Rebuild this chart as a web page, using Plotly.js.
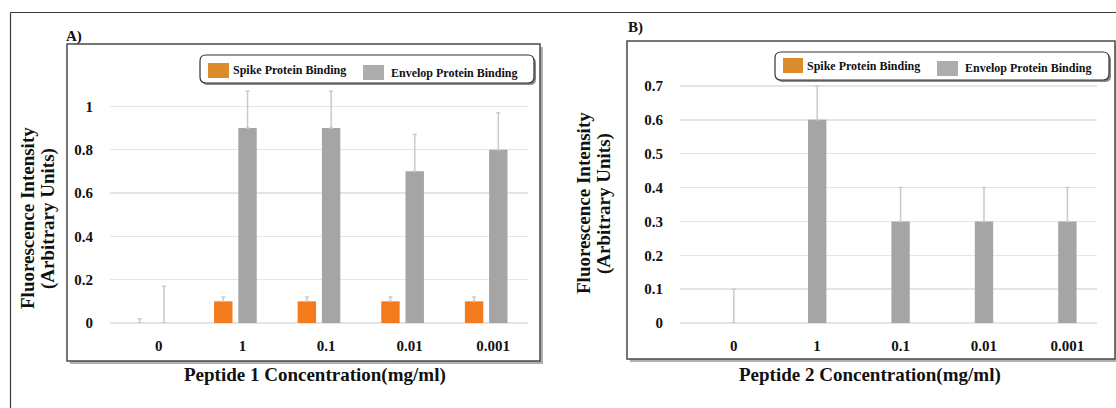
<!DOCTYPE html>
<html>
<head>
<meta charset="utf-8">
<script src="https://cdn.plot.ly/plotly-3.0.1.min.js"></script>
<style>html,body{margin:0;padding:0;background:#fff;}#chart{width:1116px;height:408px;}</style>
</head>
<body>
<div id="chart"></div>
<script>
// ---- data ----
const categories = ['0', '1', '0.1', '0.01', '0.001'];
const seriesNames = ['Spike Protein Binding', 'Envelop Protein Binding'];
const p1Spike = [0, 0.1, 0.1, 0.1, 0.1];
const p1SpikeErr = [0.02, 0.02, 0.02, 0.02, 0.02];
const p1Envelop = [0, 0.9, 0.9, 0.7, 0.8];
const p1EnvelopErr = [0.17, 0.17, 0.17, 0.17, 0.17];
const p2Spike = [0, 0, 0, 0, 0];
const p2Envelop = [0, 0.6, 0.3, 0.3, 0.3];
const p2EnvelopErr = [0.1, 0.1, 0.1, 0.1, 0.1];
const y1TickVals = [0, 0.2, 0.4, 0.6, 0.8, 1, 1.2];
const y1TickText = ['0', '0.2', '0.4', '0.6', '0.8', '1', ''];
const y2TickVals = [0, 0.1, 0.2, 0.3, 0.4, 0.5, 0.6, 0.7, 0.8];
const y2TickText = ['0', '0.1', '0.2', '0.3', '0.4', '0.5', '0.6', '0.7', ''];

// ---- styles ----
const W = 1116, H = 408;
const px = x => x / W;
const py = y => 1 - y / H;
const ORANGE = '#F47A1E';
const GRAY = '#A5A5A5';
const LEG_ORANGE = '#DB8C2C';
const LEG_GRAY = '#ADADAD';
const ERR = '#CACACA';
const FONT = 'Liberation Serif';
const plusOnly = arr => arr.map(() => 0);
const bold = arr => arr.map(t => t === '' ? '' : '<b>' + t + '</b>');

function errBar(arr) {
  return {type: 'data', symmetric: false, array: arr, arrayminus: plusOnly(arr),
          color: ERR, thickness: 1.5, width: 2};
}

const traces = [
  {type: 'bar', name: seriesNames[0], x: categories, y: p1Spike, xaxis: 'x', yaxis: 'y',
   marker: {color: ORANGE}, error_y: errBar(p1SpikeErr), hoverinfo: 'skip'},
  {type: 'bar', name: seriesNames[1], x: categories, y: p1Envelop, xaxis: 'x', yaxis: 'y',
   marker: {color: GRAY}, error_y: errBar(p1EnvelopErr), hoverinfo: 'skip'},
  {type: 'bar', name: seriesNames[0], x: categories, y: p2Spike, xaxis: 'x2', yaxis: 'y2',
   marker: {color: ORANGE}, hoverinfo: 'skip'},
  {type: 'bar', name: seriesNames[1], x: categories, y: p2Envelop, xaxis: 'x2', yaxis: 'y2',
   marker: {color: GRAY}, error_y: errBar(p2EnvelopErr), hoverinfo: 'skip'}
];

const tickFont = {family: FONT, size: 15, color: '#111111', weight: 'bold'};
function xAxis(d0, d1, anchor, shift) {
  return {domain: [px(d0), px(d1)], anchor: anchor, type: 'category', showgrid: false,
          showline: false, zeroline: false, ticks: '', tickfont: tickFont,
          tickmode: 'array', tickvals: categories, ticktext: bold(categories),
          ticklabelstandoff: 12, ticklabelshift: shift, fixedrange: true};
}
function yAxis(top, anchor, range, vals, text) {
  return {domain: [py(323), py(top)], anchor: anchor, range: range, tickmode: 'array',
          tickvals: vals, ticktext: bold(text), showgrid: true, gridcolor: '#E5E5E5', gridwidth: 1.5,
          zeroline: true, zerolinecolor: '#E5E5E5', zerolinewidth: 1.5, showline: false,
          ticks: '', tickfont: tickFont, ticklabelstandoff: 16, fixedrange: true};
}

function rrPath(x0, y0, x1, y1, r) {
  const P = (x, y) => px(x) + ',' + py(y);
  return 'M' + P(x0 + r, y0) + ' L' + P(x1 - r, y0) + ' Q' + P(x1, y0) + ' ' + P(x1, y0 + r) +
         ' L' + P(x1, y1 - r) + ' Q' + P(x1, y1) + ' ' + P(x1 - r, y1) +
         ' L' + P(x0 + r, y1) + ' Q' + P(x0, y1) + ' ' + P(x0, y1 - r) +
         ' L' + P(x0, y0 + r) + ' Q' + P(x0, y0) + ' ' + P(x0 + r, y0) + ' Z';
}
function rect(x0, y0, x1, y1, line, fill, layer) {
  return {type: 'rect', xref: 'paper', yref: 'paper', x0: px(x0), x1: px(x1), y0: py(y1), y1: py(y0),
          line: line, fillcolor: fill, layer: layer || 'below'};
}
function lineShape(x0, y0, x1, y1, color, w) {
  return {type: 'line', xref: 'paper', yref: 'paper', x0: px(x0), x1: px(x1), y0: py(y0), y1: py(y1),
          line: {color: color, width: w}, layer: 'below'};
}

const shapes = [
  // outer frame
  lineShape(10.5, 12.5, 1116, 12.5, '#3a3a3a', 1.2),
  lineShape(10.5, 12.5, 10.5, 408, '#3a3a3a', 1.2),
  // panel A frame with shadow
  rect(70, 47, 543, 364, {width: 0}, '#B0B0B0'),
  rect(67, 44, 540, 361, {color: '#4a4a4a', width: 1.5}, '#FFFFFF'),
  // panel B frame with shadow
  rect(630, 44, 1118, 362, {width: 0}, '#B0B0B0'),
  rect(627, 41, 1115, 359, {color: '#4a4a4a', width: 1.5}, '#FFFFFF'),
  // legend A box
  {type: 'path', xref: 'paper', yref: 'paper', path: rrPath(202, 57, 536, 85, 6),
   fillcolor: '#8a8a8a', line: {width: 0}, layer: 'above'},
  {type: 'path', xref: 'paper', yref: 'paper', path: rrPath(200, 55, 534, 83, 6),
   fillcolor: '#FFFFFF', line: {color: '#333', width: 1.2}, layer: 'above'},
  rect(208, 63, 229, 78, {width: 0}, LEG_ORANGE, 'above'),
  rect(363, 65, 384, 80, {width: 0}, LEG_GRAY, 'above'),
  // legend B box
  {type: 'path', xref: 'paper', yref: 'paper', path: rrPath(777, 54, 1111, 82, 6),
   fillcolor: '#8a8a8a', line: {width: 0}, layer: 'above'},
  {type: 'path', xref: 'paper', yref: 'paper', path: rrPath(775, 52, 1109, 80, 6),
   fillcolor: '#FFFFFF', line: {color: '#333', width: 1.2}, layer: 'above'},
  rect(783, 58, 803, 73, {width: 0}, LEG_ORANGE, 'above'),
  rect(937, 61, 958, 76, {width: 0}, LEG_GRAY, 'above')
];

function ann(text, x, y, size, opts) {
  return Object.assign({text: '<b>' + text + '</b>', xref: 'paper', yref: 'paper', x: px(x), y: py(y),
    showarrow: false, xanchor: 'center', yanchor: 'middle',
    font: {family: FONT, size: size, color: '#111111', weight: 'bold'}}, opts || {});
}

const annotations = [
  ann('A)', 74, 36, 15),
  ann('B)', 635, 28, 15),
  ann('Fluorescence Intensity', 27, 218, 19, {textangle: -90}),
  ann('(Arbitrary Units)', 48, 219, 19, {textangle: -90}),
  ann('Fluorescence Intensity', 583, 203, 19, {textangle: -90}),
  ann('(Arbitrary Units)', 604, 204, 19, {textangle: -90}),
  ann('Peptide 1 Concentration(mg/ml)', 315, 375, 19),
  ann('Peptide 2 Concentration(mg/ml)', 870, 375, 19),
  ann(seriesNames[0], 231, 70, 12, {xanchor: 'left'}),
  ann(seriesNames[1], 389, 73, 12, {xanchor: 'left'}),
  ann(seriesNames[0], 805, 66, 12, {xanchor: 'left'}),
  ann(seriesNames[1], 963, 68.5, 12, {xanchor: 'left'})
];

const layout = {
  width: W, height: H, margin: {l: 0, r: 0, t: 0, b: 0},
  paper_bgcolor: '#FFFFFF', plot_bgcolor: 'rgba(0,0,0,0)',
  showlegend: false, barmode: 'group', bargap: 0.42, bargroupgap: 0.24,
  font: {family: FONT, color: '#111111'},
  xaxis: xAxis(110, 528, 'y', 7),
  yaxis: yAxis(63, 'x', [0, 1.2], y1TickVals, y1TickText),
  xaxis2: xAxis(680, 1097, 'y2', 12),
  yaxis2: yAxis(52, 'x2', [0, 0.8], y2TickVals, y2TickText),
  shapes: shapes,
  annotations: annotations
};

Plotly.newPlot('chart', traces, layout, {displayModeBar: false, staticPlot: true});
</script>
</body>
</html>
